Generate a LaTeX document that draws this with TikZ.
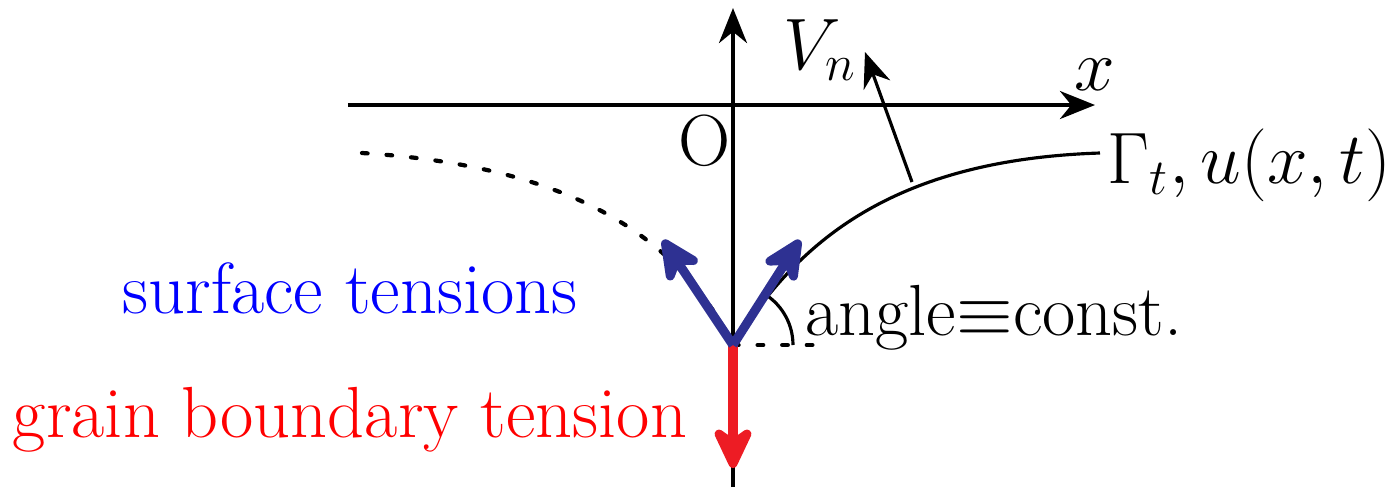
\documentclass[tikz,border=0pt]{standalone}
\usetikzlibrary{arrows.meta}
\definecolor{gbred}{RGB}{237,28,36}
\definecolor{stblue}{RGB}{46,49,146}
\tikzset{
  axis/.style={line width=0.9pt,-{Stealth[length=10pt,width=8pt]}},
  forcearrow/.style={line width=2.6pt,-{Stealth[length=15pt,width=14pt,round]}},
  dots/.style={line width=1.2pt,line cap=round,dash pattern=on 1.6pt off 5.4pt},
  lbl/.style={font=\fontsize{20.6}{24}\selectfont},
}
\begin{document}
\begin{tikzpicture}[scale=1.0]
\useasboundingbox (-7.33,1.05) rectangle (6.64,-3.82);
\coordinate (O) at (0,0);
\coordinate (J) at (0,-2.40);
\coordinate (xl) at (-3.85,0);
\coordinate (xr) at (3.62,0);
\coordinate (yb) at (0,-3.82);
\coordinate (yt) at (0,0.97);
\coordinate (gend) at (3.67,-0.48);
\coordinate (dend) at (-3.71,-0.48);
\coordinate (vbase) at (1.79,-0.77);
\coordinate (vtip) at (1.32,0.53);
\draw[axis] (xl) -- (xr);
\draw[axis] (yb) -- (yt);
\draw[line width=0.9pt] (J) .. controls (0.6,-1.45) and (1.5,-0.55) .. (gend);
\draw[dots] (dend) .. controls (-1.8,-0.6) and (-0.6,-1.2) .. (J);
\draw[dots] (J) -- (0.80,-2.40);
\draw[line width=0.9pt] (J) ++(0.60,0) arc (0:56:0.60);
\draw[axis] (vbase) -- (vtip);
\draw[forcearrow,gbred] (J) -- (0,-3.63);
\draw[forcearrow,stblue] (J) -- (-0.70,-1.35);
\draw[forcearrow,stblue] (J) -- (0.67,-1.35);
\node[lbl] (Olbl) at (-0.28,-0.36) {O};
\node[lbl] (xlbl) at (3.62,0.30) {$x$};
\node[lbl] (vlbl) at (0.87,0.55) {$V_n$};
\node[lbl,anchor=west] (glbl) at (3.62,-0.60) {$\Gamma_t,u(x,t)$};
\node[lbl,anchor=west] (albl) at (0.60,-2.13) {angle$\equiv$const.};
\node[lbl,blue] (slbl) at (-3.83,-1.83) {surface tensions};
\node[lbl,red] (rlbl) at (-3.83,-3.15) {grain boundary tension};
\end{tikzpicture}
\end{document}
